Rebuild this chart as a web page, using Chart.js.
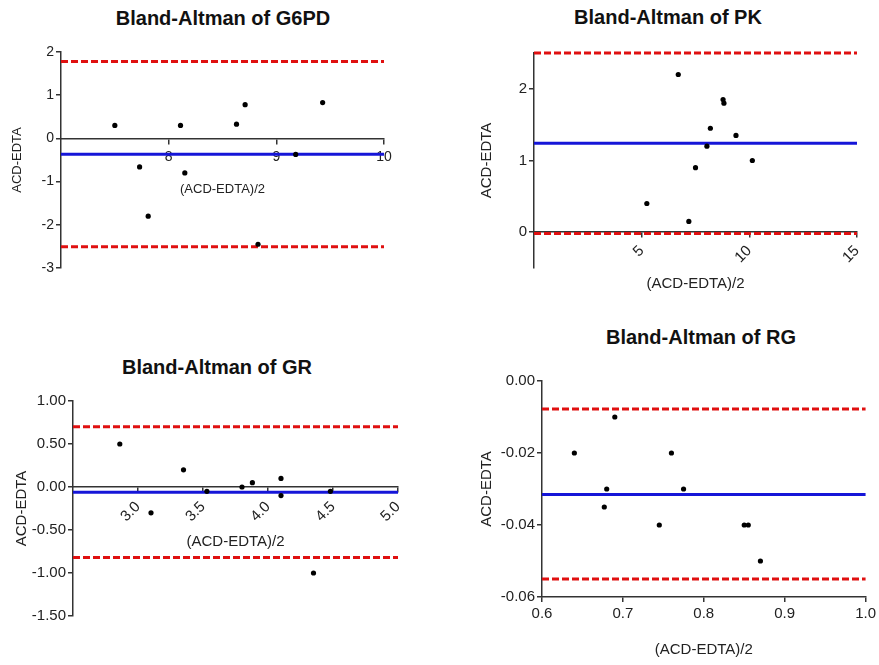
<!DOCTYPE html>
<html>
<head>
<meta charset="utf-8">
<script src="https://cdn.jsdelivr.net/npm/chart.js@4"></script>
<style>
  body { margin: 0; background: #fff; }
  #page { position: relative; width: 879px; height: 665px; font-family: Arial, "Liberation Sans", sans-serif; }
  .box { position: absolute; }
  .title { position: absolute; width: 400px; text-align: center; font-weight: bold; font-size: 20px; line-height: 24px; color: #111; }
</style>
</head>
<body>
<div id="page">
  <div class="title" style="left:23px;top:6px">Bland-Altman of G6PD</div>
  <div class="title" style="left:468px;top:5px">Bland-Altman of PK</div>
  <div class="title" style="left:17px;top:355px">Bland-Altman of GR</div>
  <div class="title" style="left:501px;top:325px">Bland-Altman of RG</div>
  <div class="box" style="left:0;top:0;width:440px;height:320px"><canvas id="g6pd"></canvas></div>
  <div class="box" style="left:440px;top:0;width:439px;height:320px"><canvas id="pk"></canvas></div>
  <div class="box" style="left:0;top:320px;width:440px;height:345px"><canvas id="gr"></canvas></div>
  <div class="box" style="left:440px;top:320px;width:439px;height:345px"><canvas id="rg"></canvas></div>
</div>
<script>
// G6PD
const g6pdAvg = [7.50, 7.73, 7.81, 8.11, 8.15, 8.63, 8.71, 8.83, 9.18, 9.43];
const g6pdDiff = [0.30, -0.66, -1.80, 0.30, -0.80, 0.33, 0.78, -2.45, -0.37, 0.83];
const g6pdBias = -0.365;
const g6pdLimits = [1.78, -2.51];
const g6pdXTicks = [8, 9, 10];
const g6pdYTicks = [2, 1, 0, -1, -2, -3];

// PK
const pkAvg = [6.70, 8.78, 8.82, 8.19, 9.38, 8.03, 10.14, 7.50, 5.24, 7.19];
const pkDiff = [2.20, 1.85, 1.80, 1.45, 1.35, 1.20, 1.00, 0.90, 0.40, 0.15];
const pkBias = 1.24;
const pkLimits = [2.50, -0.02];
const pkXTicks = [5, 10, 15];
const pkYTicks = [2, 1, 0];

// GR
const grAvg = [2.86, 3.10, 3.35, 3.53, 3.80, 3.88, 4.10, 4.10, 4.35, 4.48];
const grDiff = [0.50, -0.30, 0.20, -0.05, 0.00, 0.05, 0.10, -0.10, -1.00, -0.05];
const grBias = -0.06;
const grLimits = [0.70, -0.82];
const grXTicks = [3.0, 3.5, 4.0, 4.5, 5.0];
const grYTicks = [1.0, 0.5, 0, -0.5, -1.0, -1.5];

// RG
const rgAvg = [0.640, 0.690, 0.680, 0.677, 0.745, 0.760, 0.775, 0.850, 0.855, 0.870];
const rgDiff = [-0.020, -0.010, -0.030, -0.035, -0.040, -0.020, -0.030, -0.040, -0.040, -0.050];
const rgBias = -0.0315;
const rgLimits = [-0.0078, -0.055];
const rgXTicks = [0.6, 0.7, 0.8, 0.9, 1.0];
const rgYTicks = [0, -0.02, -0.04, -0.06];

const axisColor = "#333";
const textColor = "#222";

function hline(value, xMin, xMax, color, dash) {
  return {
    type: "line",
    data: [{ x: xMin, y: value }, { x: xMax, y: value }],
    borderColor: color,
    borderWidth: 3,
    borderDash: dash,
    pointRadius: 0,
    fill: false,
    clip: false,
  };
}

function blandAltman(id, p) {
  const xAxis = {
    type: "linear",
    min: p.xRange[0],
    max: p.xRange[1],
    position: p.xAtZero ? { y: 0 } : "bottom",
    afterBuildTicks: (s) => { s.ticks = p.xTicks.map((v) => ({ value: v })); },
    afterFit: (s) => { s.height = p.xHeight; },
    grid: { display: true, drawOnChartArea: false, drawTicks: true, tickLength: 5, color: axisColor, lineWidth: 1.5 },
    border: { display: true, color: axisColor, width: 1.5 },
    ticks: {
      color: textColor,
      font: { family: "Arial", size: p.tickSize },
      padding: p.xPad,
      minRotation: p.rot,
      maxRotation: p.rot,
      callback: (v) => v.toFixed(p.xDec),
    },
    title: { display: true, text: "(ACD-EDTA)/2", color: textColor, font: { family: "Arial", size: p.labelSize }, padding: 0 },
  };

  const yAxis = {
    type: "linear",
    min: p.yRange[0],
    max: p.yRange[1],
    afterBuildTicks: (s) => { s.ticks = p.yTicks.map((v) => ({ value: v })); },
    afterFit: (s) => { s.width = p.yWidth; },
    grid: { display: true, drawOnChartArea: false, drawTicks: true, tickLength: 5, color: axisColor, lineWidth: 1.5 },
    border: { display: true, color: axisColor, width: 1.5 },
    ticks: {
      color: textColor,
      font: { family: "Arial", size: p.tickSize },
      padding: 2,
      callback: (v) => v.toFixed(p.yDec),
    },
    title: { display: true, text: "ACD-EDTA", color: textColor, font: { family: "Arial", size: p.labelSize }, padding: 0 },
  };

  const points = {
    type: "scatter",
    data: p.avg.map((x, i) => ({ x: x, y: p.diff[i] })),
    pointRadius: 2.6,
    pointBackgroundColor: "#000",
    pointBorderWidth: 0,
  };

  new Chart(document.getElementById(id), {
    type: "scatter",
    data: {
      datasets: [
        points,
        hline(p.bias, p.xRange[0], p.xRange[1], "#1515d8", []),
        hline(p.limits[0], p.xRange[0], p.xRange[1], "#e01010", [7, 3]),
        hline(p.limits[1], p.xRange[0], p.xRange[1], "#e01010", [7, 3]),
      ],
    },
    options: {
      responsive: true,
      maintainAspectRatio: false,
      animation: false,
      layout: { padding: p.padding },
      plugins: { legend: { display: false }, tooltip: { enabled: false }, title: { display: false } },
      scales: { x: xAxis, y: yAxis },
    },
  });
}

blandAltman("g6pd", {
  avg: g6pdAvg, diff: g6pdDiff, bias: g6pdBias, limits: g6pdLimits,
  xRange: [7, 10], yRange: [-3, 2], xTicks: g6pdXTicks, yTicks: g6pdYTicks,
  xDec: 0, yDec: 0, rot: 0, xAtZero: true, xPad: 5,
  tickSize: 14, labelSize: 13, yWidth: 51, xHeight: 58.8,
  padding: { left: 10, right: 56, top: 52, bottom: 52 },
});

blandAltman("pk", {
  avg: pkAvg, diff: pkDiff, bias: pkBias, limits: pkLimits,
  xRange: [0, 15], yRange: [-0.5, 2.5], xTicks: pkXTicks, yTicks: pkYTicks,
  xDec: 0, yDec: 0, rot: 45, xAtZero: true, xPad: 5,
  tickSize: 15, labelSize: 15, yWidth: 56, xHeight: 60.7,
  padding: { left: 38, right: 22, top: 53, bottom: 52 },
});

blandAltman("gr", {
  avg: grAvg, diff: grDiff, bias: grBias, limits: grLimits,
  xRange: [2.5, 5.0], yRange: [-1.5, 1.0], xTicks: grXTicks, yTicks: grYTicks,
  xDec: 1, yDec: 2, rot: 45, xAtZero: true, xPad: 6,
  tickSize: 15, labelSize: 15, yWidth: 60, xHeight: 63.7,
  padding: { left: 13, right: 42, top: 81, bottom: 49 },
});

blandAltman("rg", {
  avg: rgAvg, diff: rgDiff, bias: rgBias, limits: rgLimits,
  xRange: [0.6, 1.0], yRange: [-0.06, 0], xTicks: rgXTicks, yTicks: rgYTicks,
  xDec: 1, yDec: 2, rot: 0, xAtZero: false, xPad: 3,
  tickSize: 15, labelSize: 15, yWidth: 64, xHeight: 62,
  padding: { left: 38, right: 12, top: 61, bottom: 6 },
});
</script>
</body>
</html>
